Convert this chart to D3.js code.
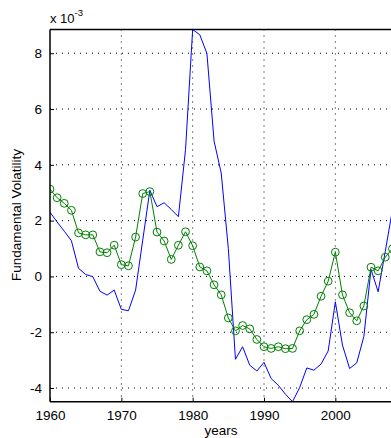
<!DOCTYPE html>
<html><head><meta charset="utf-8">
<script src="https://cdn.jsdelivr.net/npm/d3@7"></script>
<style>
html,body{margin:0;padding:0;background:#fff;overflow:hidden;}
text{font-family:"Liberation Sans",Arial,Helvetica,sans-serif;fill:#000;}
</style></head>
<body><svg id="c" width="391" height="438"></svg>
<script>
const years = d3.range(1960, 2009);
const blueSeries = [2.30,1.95,1.62,1.28,0.29,0.07,-0.01,-0.53,-0.67,-0.49,
  -1.18,-1.23,-0.49,1.30,3.09,2.50,2.64,2.40,2.14,4.55,
  8.85,8.66,7.99,4.85,3.71,1.00,-2.97,-2.52,-3.18,-3.39,
  -3.08,-3.66,-3.90,-4.22,-4.49,-3.98,-3.28,-3.36,-3.14,-2.67,
  -0.91,-2.46,-3.30,-3.10,-2.15,0.25,-0.55,0.90,2.38];
const greenSeries = [3.13,2.82,2.62,2.37,1.56,1.49,1.49,0.88,0.85,1.12,
  0.42,0.38,1.41,2.97,3.04,1.59,1.27,0.61,1.12,1.60,
  1.10,0.34,0.20,-0.30,-0.66,-1.49,-1.95,-1.76,-1.88,-2.26,
  -2.52,-2.58,-2.52,-2.59,-2.58,-1.95,-1.55,-1.36,-0.71,-0.17,
  0.87,-0.66,-1.30,-1.59,-1.06,0.33,0.20,0.69,0.99];
const xTicks = [1960,1970,1980,1990,2000];
const yTicks = [-4,-2,0,2,4,6,8];
const yLabel = "Fundamental Volatility";
const xLabel = "years";

const svg = d3.select("#c");
const L = 50, R = 392.4, T = 29.5, B = 401.7;
const x = d3.scaleLinear().domain([1960, 2008]).range([L, R]);
const y = d3.scaleLinear().domain([-4.49, 8.85]).range([B, T]);

svg.append("defs").append("clipPath").attr("id","clip")
  .append("rect").attr("x",L).attr("y",T).attr("width",R-L).attr("height",B-T);

// grid
const g = svg.append("g");
g.selectAll(".gx").data(xTicks.filter(d=>d>1960)).enter().append("line")
  .attr("x1",d=>x(d)).attr("x2",d=>x(d)).attr("y1",T).attr("y2",B)
  .attr("stroke","#000").attr("stroke-width",1).attr("stroke-dasharray","1,5");
g.selectAll(".gy").data(yTicks).enter().append("line")
  .attr("x1",L).attr("x2",R).attr("y1",d=>y(d)).attr("y2",d=>y(d))
  .attr("stroke","#000").attr("stroke-width",1).attr("stroke-dasharray","1,5");

const plot = svg.append("g").attr("clip-path","url(#clip)");
const line = d3.line().x((d,i)=>x(years[i])).y(d=>y(d));
plot.append("path").datum(blueSeries).attr("d",line)
  .attr("fill","none").attr("stroke","#0000ff").attr("stroke-width",1);
plot.append("path").datum(greenSeries).attr("d",line)
  .attr("fill","none").attr("stroke","#008000").attr("stroke-width",1);
plot.selectAll("circle").data(greenSeries).enter().append("circle")
  .attr("cx",(d,i)=>x(years[i])).attr("cy",d=>y(d)).attr("r",3.9)
  .attr("fill","none").attr("stroke","#008000").attr("stroke-width",1);

// axes
const xAxis = d3.axisBottom(x).tickValues(xTicks).tickSize(-4).tickPadding(9).tickFormat(d3.format("d"));
const gx = svg.append("g").attr("transform",`translate(0,${B})`).call(xAxis);
const yAxis = d3.axisLeft(y).tickValues(yTicks).tickSize(-4).tickPadding(8).tickFormat(d=>d);
const gy = svg.append("g").attr("transform",`translate(${L},0)`).call(yAxis);
[gx,gy].forEach(a=>{
  a.select(".domain").remove();
  a.selectAll("line").attr("stroke","#000");
  a.selectAll("text").style("font-size","13.5px").attr("fill","#000");
});
svg.append("line").attr("x1",L).attr("x2",391).attr("y1",T).attr("y2",T).attr("stroke","#000").attr("stroke-width",1.5);
svg.append("line").attr("x1",L).attr("x2",391).attr("y1",B).attr("y2",B).attr("stroke","#000").attr("stroke-width",1.5);
svg.append("line").attr("x1",L).attr("x2",L).attr("y1",T).attr("y2",B).attr("stroke","#000").attr("stroke-width",1.5);

// exponent label
const ex = svg.append("text").attr("x",L).attr("y",22.5).style("font-size","13px");
ex.append("tspan").text("x 10");
ex.append("tspan").attr("dy",-7).style("font-size","9.5px").text("-3");

svg.append("text").attr("transform",`translate(21,215) rotate(-90)`)
  .attr("text-anchor","middle").style("font-size","13.5px").text(yLabel);
svg.append("text").attr("x",221).attr("y",435).attr("text-anchor","middle")
  .style("font-size","13.5px").text(xLabel);
</script></body></html>
